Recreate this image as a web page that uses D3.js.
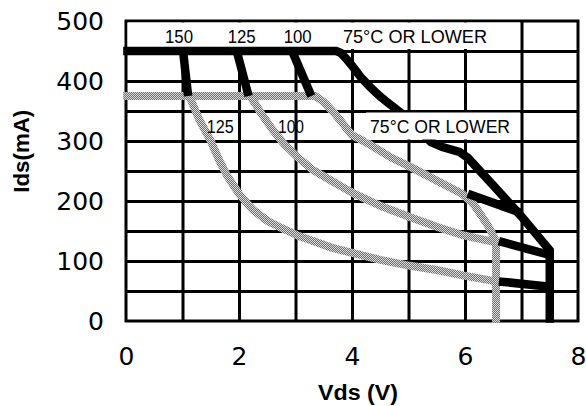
<!DOCTYPE html>
<html>
<head>
<meta charset="utf-8">
<script src="https://cdn.jsdelivr.net/npm/d3@7"></script>
<style>
  body { margin: 0; background: #fff; }
  .tick text { font-family: "DejaVu Sans", sans-serif; font-size: 25px; fill: #000; }
  .label { font-family: "Liberation Sans", Arial, sans-serif; font-size: 19px; fill: #000; }
  .title { font-family: "Liberation Sans", Arial, sans-serif; font-size: 22px; font-weight: bold; fill: #000; }
</style>
</head>
<body>
<div class="chart"></div>
<script>
// tick values
const xTicks = [0, 2, 4, 6, 8];
const yTicks = [0, 100, 200, 300, 400, 500];
const xGridVals = [1, 2, 3, 4, 5, 6, 7];
const yGridVals = [50, 100, 150, 200, 250, 300, 350, 400, 450];

// black curves [Vds, Ids]
const black75 = [[-0.05, 450], [3.72, 450], [3.8, 447], [3.9, 437], [4.02, 423], [4.15, 407], [4.32, 390],
  [4.5, 374], [4.62, 365], [4.85, 348], [5.1, 325], [5.4, 298], [5.6, 290], [5.9, 282], [6.05, 272],
  [6.5, 226], [7.0, 174], [7.5, 118], [7.5, -3]];
const black150 = [[1.01, 450], [1.10, 375]];
const black125 = [[1.96, 450], [2.17, 375]];
const black100 = [[2.94, 450], [3.28, 375]];
const link75 = [[6.05, 212], [7.0, 180]];
const link100 = [[6.6, 133], [7.5, 110]];
const link125 = [[6.6, 66], [7.5, 57]];

// gray curves [Vds, Ids]
const gray75 = [[-0.05, 375], [3.35, 375], [3.5, 365], [3.7, 345], [4.0, 310], [4.3, 295], [4.7, 272],
  [5.05, 256], [5.5, 234], [5.95, 212], [6.15, 195], [6.4, 160], [6.55, 133], [6.55, -3]];
const gray100 = [[2.2, 375], [2.4, 345], [2.6, 318], [2.8, 295], [3.05, 272], [3.3, 252], [3.65, 233],
  [4.02, 213], [4.5, 192], [5.03, 173], [5.5, 157], [5.96, 143], [6.55, 131]];
const gray125 = [[1.12, 375], [1.3, 335], [1.49, 302], [1.65, 268], [1.79, 242], [2.0, 212], [2.25, 185],
  [2.5, 167], [2.75, 155], [3.05, 142], [3.65, 122], [4.02, 113], [4.5, 102], [5.03, 92], [5.5, 85],
  [5.96, 76], [6.55, 66]];

const topLabels = ["150", "125", "100", "75°C OR LOWER"];
const midLabels = ["125", "100", "75°C OR LOWER"];

const margin = {top: 21, right: 8, bottom: 85, left: 126},
  width = 586 - margin.left - margin.right,
  height = 406 - margin.top - margin.bottom;

const x = d3.scaleLinear().domain([0, 8]).range([0, width]);
const y = d3.scaleLinear().domain([0, 500]).range([height, 0]);

const svg = d3.select(".chart").append("svg")
    .attr("width", width + margin.left + margin.right)
    .attr("height", height + margin.top + margin.bottom)
  .append("g")
    .attr("transform", "translate(" + margin.left + "," + margin.top + ")");

// dithered gray like the print
const pat = svg.append("defs").append("pattern")
  .attr("id", "dots").attr("width", 2).attr("height", 2)
  .attr("patternUnits", "userSpaceOnUse");
pat.append("rect").attr("width", 2).attr("height", 2).attr("fill", "#dadada");
pat.append("rect").attr("width", 1).attr("height", 1).attr("fill", "#707070");
pat.append("rect").attr("x", 1).attr("y", 1).attr("width", 1).attr("height", 1).attr("fill", "#707070");

// grid
const gx = svg.append("g")
  .attr("transform", "translate(0," + height + ")")
  .call(d3.axisBottom(x).tickValues(xGridVals).tickSize(-height).tickFormat(""));
const gy = svg.append("g")
  .call(d3.axisLeft(y).tickValues(yGridVals).tickSize(-width).tickFormat(""));
[gx, gy].forEach(g => {
  g.select(".domain").remove();
  g.selectAll("line").attr("stroke", "#000").attr("stroke-width", 3);
});

svg.append("rect")
  .attr("width", width).attr("height", height)
  .attr("fill", "none").attr("stroke", "#000").attr("stroke-width", 3);

// white band behind the top labels
svg.append("rect")
  .attr("x", x(0) + 1.5).attr("y", y(500) + 1.5)
  .attr("width", x(7) - x(0) - 3).attr("height", y(450) - y(500) - 3.5)
  .attr("fill", "#fff");

const line = d3.line()
  .x(d => x(d[0]))
  .y(d => y(d[1]));

[gray75, gray100, gray125].forEach(d => {
  svg.append("path").datum(d)
    .attr("d", line)
    .attr("fill", "none")
    .attr("stroke", "url(#dots)")
    .attr("stroke-width", 8);
});

[black75, black150, black125, black100, link75, link100, link125].forEach(d => {
  svg.append("path").datum(d)
    .attr("d", line)
    .attr("fill", "none")
    .attr("stroke", "#000")
    .attr("stroke-width", 8.5);
});

// white box behind the middle label
svg.append("rect")
  .attr("x", x(4.25)).attr("y", y(350) + 1.5)
  .attr("width", x(7) - x(4.25) - 1.5).attr("height", y(300) - y(350) - 3)
  .attr("fill", "#fff");

const topX = [0.69, 1.80, 2.79, 3.84];
const topW = [28, 28, 28, 144];
svg.selectAll(".toplabel").data(topLabels).enter().append("text")
  .attr("class", "label")
  .attr("x", (d, i) => x(topX[i]))
  .attr("y", y(463))
  .attr("textLength", (d, i) => topW[i])
  .attr("lengthAdjust", "spacingAndGlyphs")
  .text(d => d);

const midX = [1.43, 2.69, 4.32];
const midW = [27, 26, 140];
svg.selectAll(".midlabel").data(midLabels).enter().append("text")
  .attr("class", "label")
  .attr("x", (d, i) => x(midX[i]))
  .attr("y", y(313))
  .attr("textLength", (d, i) => midW[i])
  .attr("lengthAdjust", "spacingAndGlyphs")
  .text(d => d);

// tick labels
const xAxis = svg.append("g")
  .attr("transform", "translate(0," + height + ")")
  .call(d3.axisBottom(x).tickValues(xTicks).tickSize(0).tickPadding(26));
const yAxis = svg.append("g")
  .call(d3.axisLeft(y).tickValues(yTicks).tickSize(0).tickPadding(22));
[xAxis, yAxis].forEach(g => g.select(".domain").remove());

svg.append("text")
  .attr("class", "title")
  .attr("x", width / 2 + 6)
  .attr("y", height + 79)
  .attr("text-anchor", "middle")
  .attr("textLength", 80)
  .attr("lengthAdjust", "spacingAndGlyphs")
  .text("Vds (V)");

svg.append("text")
  .attr("class", "title")
  .attr("transform", "translate(" + (-97) + "," + y(283) + ") rotate(-90)")
  .attr("text-anchor", "middle")
  .attr("textLength", 83)
  .attr("lengthAdjust", "spacingAndGlyphs")
  .text("Ids(mA)");
</script>
</body>
</html>
